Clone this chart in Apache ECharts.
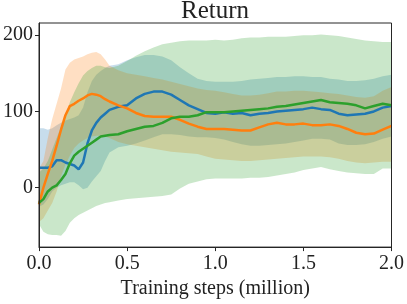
<!DOCTYPE html>
<html>
<head>
<meta charset="utf-8">
<script src="https://cdn.jsdelivr.net/npm/echarts@6/dist/echarts.min.js"></script>
<style>
html,body{margin:0;padding:0;background:#fff;}
#chart{width:407px;height:304px;}
</style>
</head>
<body>
<div id="chart"></div>
<script>
// Training steps (million)
var xs = [0, 0.025, 0.05, 0.075, 0.1, 0.125, 0.15, 0.175, 0.2, 0.225, 0.25, 0.275, 0.3, 0.325, 0.35, 0.375, 0.4,
  0.45, 0.5, 0.55, 0.6, 0.65, 0.7, 0.75, 0.8, 0.85, 0.9, 0.95, 1.0, 1.05, 1.1, 1.15, 1.2, 1.25, 1.3, 1.35, 1.4,
  1.45, 1.5, 1.55, 1.6, 1.65, 1.7, 1.75, 1.8, 1.85, 1.9, 1.95, 2.0];

// Blue series
var blueMean = [26, 26, 26, 28, 36, 36, 33, 31, 29, 24, 33, 58, 75, 85, 92, 97, 102,
  106, 108, 117, 123, 126, 126, 122, 115, 108, 103, 98, 97, 99, 97, 98, 95, 97, 98, 100, 101,
  102, 103, 105, 103, 102, 97, 95, 96, 97, 100, 105, 107];
var blueUpper = [78, 78, 76, 78, 82, 85, 88, 90, 92, 95, 105, 125, 140, 148, 153, 157, 160,
  162, 167, 171, 174, 174, 172, 167, 158, 150, 143, 140, 139, 139, 139, 140, 142, 143, 144, 145, 145,
  146, 146, 145, 145, 143, 142, 140, 140, 141, 143, 146, 148];
var blueLower = [-25, -22, -15, -5, 0, 3, 5, 7, 7, 3, -2, 0, 8, 15, 22, 35, 46,
  53, 55, 58, 62, 66, 70, 70, 69, 67, 66, 66, 65, 63, 60, 57, 55, 55, 56, 57, 58,
  60, 62, 64, 64, 63, 58, 56, 56, 57, 60, 64, 67];

// Orange series
var orangeMean = [-22, 0, 18, 35, 55, 76, 95, 107, 110, 114, 117, 121, 123, 122, 120, 116, 113,
  108, 104, 98, 94, 93, 93, 93, 89, 84, 80, 77, 77, 77, 76, 75, 75, 79, 83, 85, 83,
  83, 84, 82, 82, 83, 81, 77, 72, 70, 71, 76, 81];
var orangeUpper = [25, 35, 65, 90, 110, 130, 155, 164, 168, 170, 172, 175, 177, 178, 175, 168, 160,
  154, 150, 148, 146, 144, 142, 139, 136, 133, 130, 128, 127, 125, 123, 121, 121, 122, 124, 126, 126,
  127, 127, 126, 125, 124, 123, 121, 119, 118, 120, 127, 132];
var orangeLower = [-45, -40, -30, -20, -5, 15, 30, 42, 52, 58, 62, 65, 67, 68, 68, 67, 65,
  60, 57, 55, 53, 51, 49, 47, 46, 45, 44, 41, 38, 37, 36, 35, 35, 36, 37, 38, 39,
  40, 41, 41, 41, 40, 38, 35, 33, 32, 33, 34, 34];

// Green series
var greenMean = [-20, -15, -5, 0, 3, 10, 18, 32, 42, 47, 51, 55, 59, 63, 67, 68, 69,
  70, 74, 77, 80, 81, 85, 91, 93, 93, 95, 99, 99, 99, 100, 101, 102, 103, 104, 106, 107,
  109, 111, 113, 115, 112, 111, 110, 108, 104, 107, 110, 108];
var greenUpper = [20, 25, 35, 50, 65, 80, 95, 112, 125, 137, 147, 153, 157, 160, 160, 158, 157,
  160, 166, 173, 179, 184, 188, 190, 192, 193, 193, 193, 194, 193, 194, 196, 197, 197, 198, 198, 198,
  199, 200, 200, 201, 200, 199, 197, 195, 193, 192, 191, 191];
var greenLower = [-48, -58, -61, -62, -62, -63, -57, -46, -40, -36, -33, -30, -27, -24, -22, -20, -19,
  -17, -15, -14, -13, -12, -11, -9, -1, 5, 8, 11, 12, 12, 12, 12, 13, 13, 14, 16, 18,
  20, 23, 25, 27, 24, 22, 20, 19, 18, 18, 25, 25];

var xTicks = [0, 0.5, 1.0, 1.5, 2.0];
var yTicks = [0, 100, 200];

var COLORS = {blue: '#1f77b4', orange: '#ff7f0e', green: '#2ca02c'};
var FONT = 'Liberation Serif';

function pairs(arr) { return xs.map(function (x, i) { return [x, arr[i]]; }); }

// Shaded band: one polygon built from the upper and lower arrays, mapped with api.coord
function band(lower, upper, color) {
  return {
    type: 'custom', silent: true, z: 1, clip: true,
    data: [[xs[0], lower[0]]],
    renderItem: function (params, api) {
      var pts = [];
      for (var i = 0; i < xs.length; i++) pts.push(api.coord([xs[i], upper[i]]));
      for (var j = xs.length - 1; j >= 0; j--) pts.push(api.coord([xs[j], lower[j]]));
      return {
        type: 'polygon',
        shape: {points: pts},
        style: {fill: color, opacity: 0.25, stroke: null}
      };
    }
  };
}

function meanLine(arr, color, z) {
  return {
    type: 'line', data: pairs(arr), symbol: 'none', silent: true,
    lineStyle: {color: color, width: 2.5}, z: z
  };
}

var series = [
  band(blueLower, blueUpper, COLORS.blue),
  band(orangeLower, orangeUpper, COLORS.orange),
  band(greenLower, greenUpper, COLORS.green),
  meanLine(blueMean, COLORS.blue, 5),
  meanLine(orangeMean, COLORS.orange, 6),
  meanLine(greenMean, COLORS.green, 7)
];

var axisColor = '#262626';
var chart = echarts.init(document.getElementById('chart'), null, {renderer: 'canvas'});
chart.setOption({
  animation: false,
  backgroundColor: '#fff',
  title: {
    text: 'Return', left: 215, top: -1, textAlign: 'center', padding: 0,
    textStyle: {fontFamily: FONT, fontSize: 25, fontWeight: 'normal', color: '#222'}
  },
  grid: {left: 36, right: 13, top: 23, bottom: 51, containLabel: false,
    show: true, z: 20, backgroundColor: 'transparent', borderColor: axisColor, borderWidth: 1},
  xAxis: {
    type: 'value', min: 0, max: 2.0, interval: 0.5, z: 10,
    name: 'Training steps (million)', nameLocation: 'middle', nameGap: 29,
    nameTextStyle: {fontFamily: FONT, fontSize: 20, color: '#222'},
    axisLine: {show: true, onZero: false, lineStyle: {color: axisColor, width: 1}},
    axisTick: {show: true, inside: false, length: 4, lineStyle: {color: axisColor}, customValues: xTicks},
    axisLabel: {fontFamily: FONT, fontSize: 20, color: '#222', margin: 7, customValues: xTicks,
      formatter: function (v) { return v.toFixed(1); }},
    splitLine: {show: false}
  },
  yAxis: {
    type: 'value', min: -78, max: 216, z: 10,
    axisLine: {show: true, onZero: false, lineStyle: {color: axisColor, width: 1}},
    axisTick: {show: true, inside: false, length: 4, lineStyle: {color: axisColor}, customValues: yTicks},
    axisLabel: {fontFamily: FONT, fontSize: 20, color: '#222', margin: 6, customValues: yTicks},
    splitLine: {show: false}
  },
  series: series
});
</script>
</body>
</html>
